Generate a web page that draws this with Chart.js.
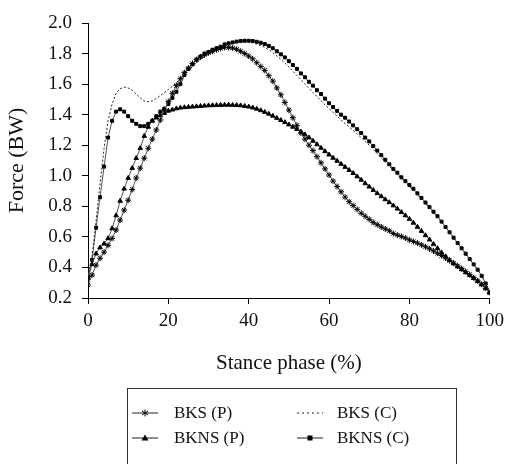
<!DOCTYPE html>
<html lang="en">
<head>
<meta charset="UTF-8">
<title>Force vs stance phase</title>
<script src="https://cdn.jsdelivr.net/npm/chart.js"></script>
<style>
  body { margin: 0; background: #fff; font-family: "Liberation Serif", "Times New Roman", serif; }
  .wrap { position: relative; width: 510px; height: 464px; overflow: hidden; }
  #forceChart { position: absolute; left: 0; top: 0; }
  .legend { position: absolute; left: 127px; top: 388px; width: 330px; height: 100px; border: 1px solid #333; box-sizing: border-box; }
  .item { position: absolute; height: 20px; display: flex; align-items: center; font-size: 17px; color: #111; white-space: nowrap; }
  .item svg { display: block; }
</style>
</head>
<body>

<div class="wrap">
  <canvas id="forceChart" width="510" height="464"></canvas>
  <div class="legend" id="legend"></div>
</div>

<script>
// stance phase, 0..100 % in 1 % steps
const stance = Array.from({ length: 101 }, (_, i) => i);

const labels = ['BKS (P)', 'BKS (C)', 'BKNS (P)', 'BKNS (C)'];
const xTicks = [0, 20, 40, 60, 80, 100];
const yTicks = [0.2, 0.4, 0.6, 0.8, 1.0, 1.2, 1.4, 1.6, 1.8, 2.0];

// force in body weights
const bksP = [
  0.285, 0.35, 0.415, 0.46, 0.50, 0.545, 0.59, 0.645, 0.71, 0.775,
  0.84, 0.91, 0.985, 1.05, 1.115, 1.18, 1.24, 1.30, 1.365, 1.43,
  1.485, 1.54, 1.59, 1.635, 1.675, 1.705, 1.735, 1.76, 1.778, 1.792,
  1.805, 1.815, 1.825, 1.834, 1.84, 1.84, 1.836, 1.828, 1.815, 1.80,
  1.783, 1.765, 1.74, 1.715, 1.69, 1.655, 1.62, 1.575, 1.53, 1.48,
  1.43, 1.38, 1.33, 1.28, 1.24, 1.20, 1.165, 1.125, 1.085, 1.045,
  1.005, 0.965, 0.93, 0.895, 0.86, 0.83, 0.805, 0.78, 0.755, 0.735,
  0.715, 0.695, 0.68, 0.665, 0.652, 0.64, 0.622, 0.612, 0.603, 0.593,
  0.58, 0.57, 0.56, 0.548, 0.535, 0.522, 0.508, 0.493, 0.478, 0.462,
  0.445, 0.428, 0.41, 0.392, 0.373, 0.353, 0.333, 0.312, 0.29, 0.264,
  0.235
];
const bksC = [
  0.34, 0.47, 0.70, 0.95, 1.18, 1.36, 1.47, 1.54, 1.57, 1.58,
  1.575, 1.56, 1.535, 1.51, 1.49, 1.485, 1.49, 1.505, 1.525, 1.545,
  1.565, 1.585, 1.61, 1.635, 1.66, 1.69, 1.715, 1.74, 1.76, 1.78,
  1.795, 1.81, 1.825, 1.838, 1.848, 1.857, 1.865, 1.872, 1.876, 1.877,
  1.875, 1.87, 1.862, 1.852, 1.84, 1.825, 1.805, 1.785, 1.762, 1.738,
  1.712, 1.685, 1.657, 1.63, 1.60, 1.573, 1.545, 1.518, 1.49, 1.465,
  1.44, 1.415, 1.39, 1.365, 1.342, 1.32, 1.297, 1.273, 1.25, 1.225,
  1.20, 1.173, 1.145, 1.117, 1.09, 1.062, 1.035, 1.008, 0.98, 0.955,
  0.93, 0.903, 0.875, 0.847, 0.818, 0.79, 0.76, 0.73, 0.698, 0.665,
  0.63, 0.595, 0.56, 0.525, 0.49, 0.455, 0.42, 0.385, 0.345, 0.295,
  0.235
];
const bknsP = [
  0.33, 0.42, 0.49, 0.53, 0.555, 0.59, 0.655, 0.74, 0.835, 0.915,
  0.985, 1.05, 1.115, 1.18, 1.26, 1.32, 1.36, 1.38, 1.395, 1.41,
  1.425, 1.432, 1.44, 1.445, 1.448, 1.45, 1.452, 1.454, 1.456, 1.458,
  1.46, 1.461, 1.462, 1.463, 1.464, 1.464, 1.463, 1.462, 1.46, 1.456,
  1.452, 1.446, 1.438, 1.428, 1.417, 1.405, 1.392, 1.378, 1.364, 1.35,
  1.335, 1.32, 1.305, 1.288, 1.27, 1.25, 1.228, 1.205, 1.182, 1.16,
  1.138, 1.117, 1.097, 1.077, 1.057, 1.037, 1.017, 0.995, 0.973, 0.95,
  0.928, 0.906, 0.885, 0.865, 0.845, 0.826, 0.805, 0.784, 0.762, 0.74,
  0.717, 0.692, 0.665, 0.638, 0.61, 0.582, 0.553, 0.525, 0.498, 0.472,
  0.448, 0.426, 0.406, 0.387, 0.368, 0.349, 0.33, 0.31, 0.288, 0.263,
  0.235
];
const bknsC = [
  0.34, 0.45, 0.66, 0.86, 1.06, 1.25, 1.36, 1.42, 1.435, 1.42,
  1.39, 1.36, 1.34, 1.325, 1.325, 1.34, 1.36, 1.39, 1.42, 1.44,
  1.47, 1.51, 1.55, 1.60, 1.66, 1.70, 1.73, 1.76, 1.78, 1.80,
  1.81, 1.825, 1.835, 1.845, 1.86, 1.867, 1.873, 1.878, 1.882, 1.884,
  1.884, 1.882, 1.877, 1.871, 1.862, 1.85, 1.835, 1.815, 1.795, 1.775,
  1.75, 1.725, 1.70, 1.67, 1.645, 1.615, 1.59, 1.56, 1.535, 1.505,
  1.475, 1.45, 1.425, 1.40, 1.38, 1.355, 1.33, 1.305, 1.28, 1.25,
  1.225, 1.195, 1.165, 1.135, 1.105, 1.075, 1.045, 1.02, 0.99, 0.965,
  0.94, 0.915, 0.885, 0.855, 0.825, 0.795, 0.765, 0.735, 0.70, 0.665,
  0.63, 0.595, 0.56, 0.525, 0.49, 0.455, 0.42, 0.385, 0.345, 0.295,
  0.235
];

const serif = '"Liberation Serif", "Times New Roman", serif';

function points(values) {
  return stance.map((x, i) => ({ x: x, y: values[i] }));
}

const styles = [
  { pointStyle: 'star', pointRadius: 3, borderDash: [] },
  { pointStyle: false, pointRadius: 0, borderDash: [2, 2] },
  { pointStyle: 'triangle', pointRadius: 2.6, borderDash: [] },
  { pointStyle: 'rect', pointRadius: 2.1, borderDash: [] }
];
const series = [bksP, bksC, bknsP, bknsC];

const datasets = series.map((vals, i) => ({
  label: labels[i],
  data: points(vals),
  borderColor: i === 1 ? '#222' : '#555',
  borderWidth: 1,
  borderDash: styles[i].borderDash,
  pointStyle: styles[i].pointStyle,
  pointRadius: styles[i].pointRadius,
  pointBackgroundColor: '#000',
  pointBorderColor: '#000',
  pointBorderWidth: 1,
  tension: 0,
  fill: false
}));

new Chart(document.getElementById('forceChart'), {
  type: 'line',
  data: { datasets: datasets },
  options: {
    responsive: false,
    devicePixelRatio: 1,
    animation: false,
    layout: { padding: { top: 23, right: 15, bottom: 88, left: 0 } },
    plugins: { legend: { display: false }, tooltip: { enabled: false } },
    scales: {
      x: {
        type: 'linear',
        min: 0,
        max: 100,
        afterBuildTicks: s => { s.ticks = xTicks.map(v => ({ value: v })); },
        afterFit: s => { s.height = 78; },
        grid: { drawOnChartArea: false, drawTicks: true, tickLength: 6, color: '#000' },
        border: { display: true, color: '#000', width: 1 },
        ticks: { color: '#111', padding: 6, maxRotation: 0, font: { family: serif, size: 19 } },
        title: { display: true, text: 'Stance phase (%)', color: '#111', padding: { top: 0, bottom: 0 }, font: { family: serif, size: 21 } }
      },
      y: {
        min: 0.2,
        max: 2.0,
        afterBuildTicks: s => { s.ticks = yTicks.map(v => ({ value: v })); },
        afterFit: s => { s.width = 88; },
        grid: { drawOnChartArea: false, drawTicks: true, tickLength: 6, color: '#000' },
        border: { display: true, color: '#000', width: 1 },
        ticks: { color: '#111', padding: 10, callback: v => Number(v).toFixed(1), font: { family: serif, size: 19 } },
        title: { display: true, text: 'Force (BW)', color: '#111', padding: { top: 4, bottom: 0 }, font: { family: serif, size: 22 } }
      }
    }
  }
});

// legend box below the chart, two columns
function sample(i) {
  const w = 26, h = 12, c = h / 2;
  let s = '<svg width="' + w + '" height="' + h + '">';
  if (i === 1) {
    s += '<line x1="0" y1="' + c + '" x2="' + w + '" y2="' + c + '" stroke="#222" stroke-width="1" stroke-dasharray="2,3"/>';
  } else {
    s += '<line x1="0" y1="' + c + '" x2="' + w + '" y2="' + c + '" stroke="#222" stroke-width="1"/>';
    const m = w / 2;
    if (i === 0) {
      s += '<path d="M' + m + ' ' + (c - 3.5) + 'V' + (c + 3.5) + 'M' + (m - 3) + ' ' + (c - 2) + 'L' + (m + 3) + ' ' + (c + 2) +
           'M' + (m - 3) + ' ' + (c + 2) + 'L' + (m + 3) + ' ' + (c - 2) + '" stroke="#000" stroke-width="1"/>';
    } else if (i === 2) {
      s += '<polygon points="' + m + ',' + (c - 3.5) + ' ' + (m + 3.5) + ',' + (c + 2.5) + ' ' + (m - 3.5) + ',' + (c + 2.5) + '" fill="#000"/>';
    } else {
      s += '<rect x="' + (m - 2.5) + '" y="' + (c - 2.5) + '" width="5" height="5" fill="#000"/>';
    }
  }
  return s + '</svg>';
}

const legendPos = [
  { left: 4, top: 14 }, { left: 169, top: 14 },
  { left: 4, top: 39 }, { left: 169, top: 39 }
];
const legend = document.getElementById('legend');
labels.forEach((name, i) => {
  const el = document.createElement('div');
  el.className = 'item';
  el.style.left = legendPos[i].left + 'px';
  el.style.top = legendPos[i].top + 'px';
  el.innerHTML = sample(i) + '<span style="margin-left:' + (i % 2 ? 14 : 16) + 'px">' + name + '</span>';
  legend.appendChild(el);
});
</script>

</body>
</html>
